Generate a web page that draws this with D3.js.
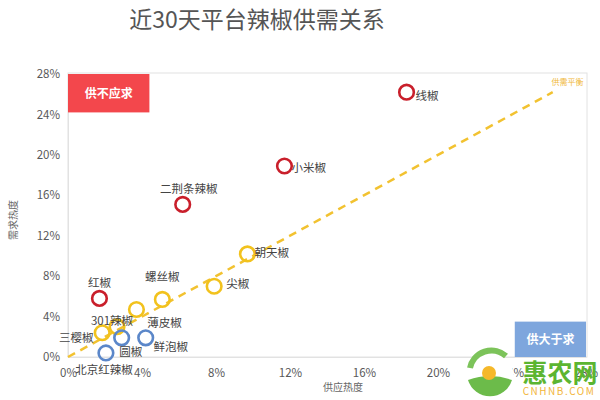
<!DOCTYPE html>
<html><head><meta charset="utf-8">
<script src="https://cdn.jsdelivr.net/npm/d3@7/dist/d3.min.js"></script>
<style>body{margin:0;background:#fff;}svg{display:block;font-family:"Noto Sans CJK SC","Noto Sans",sans-serif;}</style>
</head><body><svg id="c" width="600" height="400"></svg>
<script>
const names = ["线椒","小米椒","二荆条辣椒","朝天椒","尖椒","螺丝椒","红椒","薄皮椒","301辣椒","三樱椒","圆椒","鲜泡椒","北京红辣椒"];
const supply = [0.183,0.117,0.062,0.097,0.079,0.051,0.017,0.037,0.0265,0.0185,0.029,0.042,0.0205];
const demand = [0.262,0.189,0.151,0.102,0.070,0.057,0.058,0.047,0.030,0.024,0.019,0.019,0.004];
const groups = ["short","short","short","balance","balance","balance","short","balance","balance","balance","surplus","surplus","surplus"];
const ticks = [0,0.04,0.08,0.12,0.16,0.20,0.24,0.28];
const balanceLine = [0,0.262];

const colors = {short:"#c91f2b", balance:"#f2c21d", surplus:"#5b87c9"};
// label offsets (layout)
const labelOff = {
 "线椒":[9,4,"start"],"小米椒":[7,2,"start"],"二荆条辣椒":[6,-15,"middle"],"朝天椒":[7,-1,"start"],
 "尖椒":[12,-2,"start"],"螺丝椒":[0,-22,"middle"],"红椒":[0,-15,"middle"],"薄皮椒":[28,14,"middle"],
 "301辣椒":[-5,-6,"middle"],"三樱椒":[-26,5,"middle"],"圆椒":[9,14,"middle"],"鲜泡椒":[25,9,"middle"],
 "北京红辣椒":[-2,17,"middle"]
};

const svg = d3.select("#c");
const x = d3.scaleLinear().domain([0,0.28]).range([68,586]);
const y = d3.scaleLinear().domain([0,0.28]).range([357,74]);
const fmt = d3.format(".0%");

// title
svg.append("text").attr("x",257).attr("y",28).attr("text-anchor","middle")
 .attr("font-size",23).attr("fill","#555").text("近30天平台辣椒供需关系");

// frame
svg.append("rect").attr("x",x(0)).attr("y",y(0.28)-1).attr("width",x(0.28)-x(0)+1).attr("height",y(0)-y(0.28)+1)
 .attr("fill","none").attr("stroke","#e2e2e2").attr("stroke-width",1);

// axes
const xa = svg.append("g").attr("transform",`translate(0,${y(0)})`)
 .call(d3.axisBottom(x).tickValues(ticks).tickFormat(fmt).tickSize(0).tickPadding(12));
const ya = svg.append("g").attr("transform",`translate(${x(0)},0)`)
 .call(d3.axisLeft(y).tickValues(ticks).tickFormat(fmt).tickSize(0).tickPadding(8));
[xa,ya].forEach(g=>{g.select(".domain").attr("stroke","#e2e2e2");
 g.selectAll("text").attr("font-size",11.5).attr("fill","#595959").attr("font-family","'Noto Sans CJK SC',sans-serif");});

svg.append("text").attr("transform","translate(17,220) rotate(-90)").attr("text-anchor","middle")
 .attr("font-size",10).attr("fill","#666").text("需求热度");
svg.append("text").attr("x",343).attr("y",391).attr("text-anchor","middle")
 .attr("font-size",10).attr("fill","#666").text("供应热度");

// boxes
svg.append("rect").attr("x",x(0)).attr("y",y(0.28)).attr("width",x(0.044)-x(0)).attr("height",y(0.242)-y(0.28)).attr("fill","#f3474c");
svg.append("text").attr("x",(x(0)+x(0.044))/2).attr("y",(y(0.28)+y(0.242))/2+4.5).attr("text-anchor","middle")
 .attr("font-size",12).attr("font-weight","bold").attr("fill","#fff").text("供不应求");
svg.append("rect").attr("x",x(0.2415)).attr("y",y(0.035)).attr("width",x(0.28)-x(0.2415)).attr("height",y(0)-y(0.035)).attr("fill","#7ea6dd");
svg.append("text").attr("x",(x(0.2415)+x(0.28))/2).attr("y",(y(0.035)+y(0))/2+4.5).attr("text-anchor","middle")
 .attr("font-size",12).attr("font-weight","bold").attr("fill","#fff").text("供大于求");

// balance line
svg.append("line").attr("x1",x(balanceLine[0])).attr("y1",y(balanceLine[0])).attr("x2",x(balanceLine[1])).attr("y2",y(balanceLine[1]))
 .attr("stroke","#f2c230").attr("stroke-width",2.5).attr("stroke-dasharray","8,6");
svg.append("text").attr("x",x(0.27)).attr("y",y(0.27)+1).attr("text-anchor","middle").attr("font-size",8).attr("fill","#f0b83a").text("供需平衡");

// points
const data = names.map((n,i)=>({n,s:supply[i],d:demand[i],g:groups[i]}));
svg.selectAll("circle.p").data(data).join("circle").attr("class","p")
 .attr("cx",d=>x(d.s)).attr("cy",d=>y(d.d)).attr("r",7.3)
 .attr("fill","none").attr("stroke",d=>colors[d.g]).attr("stroke-width",2.6);
svg.selectAll("text.l").data(data).join("text").attr("class","l")
 .attr("x",d=>x(d.s)+labelOff[d.n][0]).attr("y",d=>y(d.d)+labelOff[d.n][1]+4)
 .attr("text-anchor",d=>labelOff[d.n][2]).attr("font-size",11.5).attr("fill","#444").text(d=>d.n);

// watermark
const wm = svg.append("g");
wm.append("circle").attr("cx",490).attr("cy",377).attr("r",24).attr("fill","#fff").attr("stroke","#7cc35a").attr("stroke-width",0);
wm.append("path").attr("d","M468,380 A23,23 0 0,0 512,380 Q490,372 468,380 Z").attr("fill","#6cbb4a");
wm.append("path").attr("d","M470,368 A22,22 0 0,1 506,356").attr("fill","none").attr("stroke","#7cc35a").attr("stroke-width",6);
wm.append("circle").attr("cx",489).attr("cy",373).attr("r",7).attr("fill","#f5b82a");
wm.append("text").attr("x",560).attr("y",382).attr("text-anchor","middle").attr("font-size",25).attr("font-weight","bold").attr("fill","#5cb531").text("惠农网");
wm.append("text").attr("x",559).attr("y",395).attr("text-anchor","middle").attr("font-size",10).attr("letter-spacing",1.5).attr("fill","#f2b53a").text("CNHNB.COM");
</script></body></html>
